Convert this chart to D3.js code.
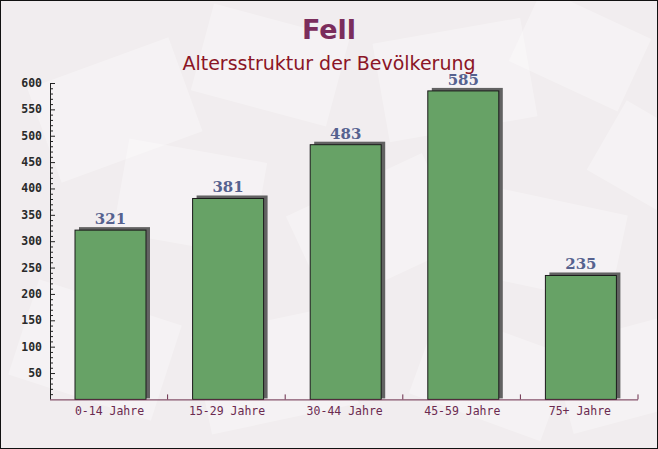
<!DOCTYPE html>
<html><head><meta charset="utf-8">
<script src="https://cdn.jsdelivr.net/npm/d3@7"></script>
<style>html,body{margin:0;padding:0;background:#fff}svg{display:block}</style>
</head><body>
<script>
const categories = ["0-14 Jahre","15-29 Jahre","30-44 Jahre","45-59 Jahre","75+ Jahre"];
const values = [321, 381, 483, 585, 235];
const yTicks = [50,100,150,200,250,300,350,400,450,500,550,600];
const titleText = "Fell";
const subtitleText = "Altersstruktur der Bevölkerung";

const W = 658, H = 449;
const svg = d3.select("body").append("svg").attr("width", W).attr("height", H);

// background
svg.append("rect").attr("x",0).attr("y",0).attr("width",W).attr("height",H).attr("fill","#f1edef");
const deco = [
  [40,60,150,100,-20],[200,20,140,90,15],[380,30,150,100,-10],[520,10,120,80,25],
  [120,150,140,95,10],[300,180,150,100,-25],[480,200,140,90,12],[20,300,150,100,18],
  [200,320,150,100,-12],[420,330,140,90,20],[560,330,120,90,-15],[600,120,100,80,30]
];
svg.append("g").selectAll("rect").data(deco).join("rect")
  .attr("x",d=>d[0]).attr("y",d=>d[1]).attr("width",d=>d[2]).attr("height",d=>d[3])
  .attr("transform",d=>`rotate(${d[4]},${d[0]+d[2]/2},${d[1]+d[3]/2})`)
  .attr("fill","#ffffff").attr("opacity",0.3);

const x0 = 50, x1 = 638, yTop = 83, yBot = 399.4;
const x = d3.scaleBand().domain(categories).range([x0, x1]).paddingInner(0).paddingOuter(0);
const y = d3.scaleLinear().domain([0, 600]).range([yBot, yTop]);

// title
svg.append("text").attr("x",329).attr("y",39).attr("text-anchor","middle")
  .attr("font-family","'DejaVu Sans', sans-serif").attr("font-weight","bold").attr("font-size",27)
  .attr("fill","#7b2d5c").text(titleText);
svg.append("text").attr("x",329).attr("y",70).attr("text-anchor","middle")
  .attr("font-family","'DejaVu Sans', sans-serif").attr("font-size",19)
  .attr("fill","#8b1526").text(subtitleText);

// bars
const bw = 71, off = 25, shx = 4, shy = 3;
const g = svg.append("g");
g.selectAll("rect.shadow").data(values).join("rect").attr("class","shadow")
  .attr("x",(d,i)=>x(categories[i])+off+shx).attr("y",d=>y(d)-shy)
  .attr("width",bw).attr("height",d=>yBot-y(d)+shy-1)
  .attr("fill","#626262");
g.selectAll("rect.bar").data(values).join("rect").attr("class","bar")
  .attr("x",(d,i)=>x(categories[i])+off).attr("y",d=>y(d))
  .attr("width",bw).attr("height",d=>yBot-y(d))
  .attr("fill","#67a266").attr("stroke","#1a1a1a").attr("stroke-width",1);

// value labels
g.selectAll("text.val").data(values).join("text").attr("class","val")
  .attr("x",(d,i)=>x(categories[i])+off+bw/2).attr("y",d=>y(d)-6)
  .attr("text-anchor","middle").attr("font-family","'DejaVu Serif', serif").attr("font-weight","bold")
  .attr("font-size",15).attr("fill","#56628f").text(d=>d);

// y axis
const yAxis = d3.axisRight(y).tickValues(yTicks).tickSize(5).tickFormat("");
const ya = svg.append("g").attr("transform",`translate(${x0},0)`).call(yAxis);
ya.select(".domain").attr("stroke","#222").attr("d",`M0.5,${yTop}V${yBot}`);
ya.selectAll(".tick line").attr("stroke","#222");
const minor = d3.range(10,600,10).filter(v=>v%50!==0);
const ym = svg.append("g").attr("transform",`translate(${x0},0)`).call(d3.axisRight(y).tickValues(minor).tickSize(3).tickFormat(""));
ym.select(".domain").remove();
ym.selectAll(".tick line").attr("stroke","#222");
svg.append("g").selectAll("text").data(yTicks).join("text")
  .attr("x",42).attr("y",d=>y(d)+4).attr("text-anchor","end")
  .attr("font-family","'DejaVu Sans Mono', monospace").attr("font-weight","bold").attr("font-size",11.5)
  .attr("fill","#2a2a2a").text(d=>d);

// x axis
const xa = svg.append("g").attr("transform",`translate(0,${yBot})`)
  .call(d3.axisTop(x).tickValues([]).tickSize(0));
xa.select(".domain").attr("stroke","#6b2d4a").attr("d",`M${x0},0.5H${x1}`);
svg.append("g").selectAll("line").data(categories).join("line")
  .attr("x1",d=>x(d)+x.bandwidth()).attr("x2",d=>x(d)+x.bandwidth())
  .attr("y1",yBot).attr("y2",yBot-5).attr("stroke","#6b2d4a");
svg.append("g").selectAll("text").data(categories).join("text")
  .attr("x",d=>x(d)+off+bw/2-1).attr("y",yBot+16).attr("text-anchor","middle")
  .attr("font-family","'DejaVu Sans Mono', monospace").attr("font-size",11.5)
  .attr("fill","#6b2a50").text(d=>d);

// border
svg.append("rect").attr("x",0.5).attr("y",0.5).attr("width",W-1).attr("height",H-1)
  .attr("fill","none").attr("stroke","#111");
</script>
</body></html>
